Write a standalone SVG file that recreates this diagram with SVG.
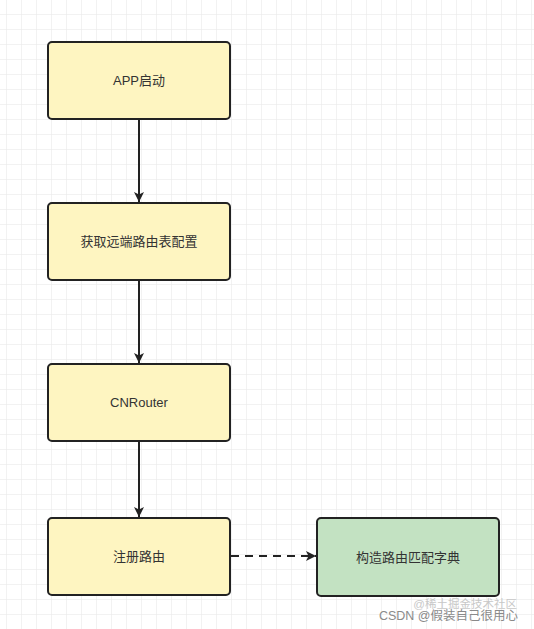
<svg xmlns="http://www.w3.org/2000/svg" width="534" height="629" viewBox="0 0 534 629">
<defs>
<pattern id="grid" x="6" y="14" width="15" height="15" patternUnits="userSpaceOnUse">
<path d="M0 0H15M0 0V15" fill="none" stroke="#e6e6e6" stroke-width="1"/>
</pattern>
<marker id="arr" viewBox="0 0 10 10" refX="10" refY="5" markerWidth="10" markerHeight="10" markerUnits="userSpaceOnUse" orient="auto">
<path d="M0 0L10 5L0 10L2.5 5Z" fill="#222"/>
</marker>
<style>
.box{stroke:#222;stroke-width:2}
.y{fill:#fef5c1}
.g{fill:#c3e2c2}
.t{font-family:"Liberation Sans","Noto Sans CJK SC",sans-serif;font-size:13px;fill:#333;text-anchor:middle;dominant-baseline:central}
.c{stroke:#222;stroke-width:2;fill:none}
</style>
</defs>
<rect width="534" height="629" fill="#fff"/>
<rect width="534" height="629" fill="url(#grid)"/>
<g id="connectors">
<line class="c" x1="139" y1="120" x2="139" y2="202" marker-end="url(#arr)"/>
<line class="c" x1="139" y1="281" x2="139" y2="363" marker-end="url(#arr)"/>
<line class="c" x1="139" y1="442" x2="139" y2="517" marker-end="url(#arr)"/>
<line class="c" x1="231" y1="556" x2="316" y2="556" stroke-dasharray="8 6" marker-end="url(#arr)"/>
</g>
<g id="n1"><rect class="box y" x="48" y="42" width="182" height="77" rx="4"/><text class="t" x="139" y="80.5">APP启动</text></g>
<g id="n2"><rect class="box y" x="48" y="203" width="182" height="77" rx="4"/><text class="t" x="139" y="241.5">获取远端路由表配置</text></g>
<g id="n3"><rect class="box y" x="48" y="364" width="182" height="77" rx="4"/><text class="t" x="139" y="402.5">CNRouter</text></g>
<g id="n4"><rect class="box y" x="48" y="518" width="182" height="77" rx="4"/><text class="t" x="139" y="556.5">注册路由</text></g>
<g id="n5"><rect class="box g" x="317" y="518" width="182" height="78" rx="4"/><text class="t" x="408" y="557">构造路由匹配字典</text></g>
<g id="watermark" font-family="'Liberation Sans','Noto Sans CJK SC',sans-serif">
<text x="517" y="608" font-size="11.5" fill="#c8c8c8" text-anchor="end">@稀土掘金技术社区</text>
<text x="518" y="620" font-size="12.5" fill="#8a8a8a" text-anchor="end">CSDN @假装自己很用心</text>
</g>
</svg>
